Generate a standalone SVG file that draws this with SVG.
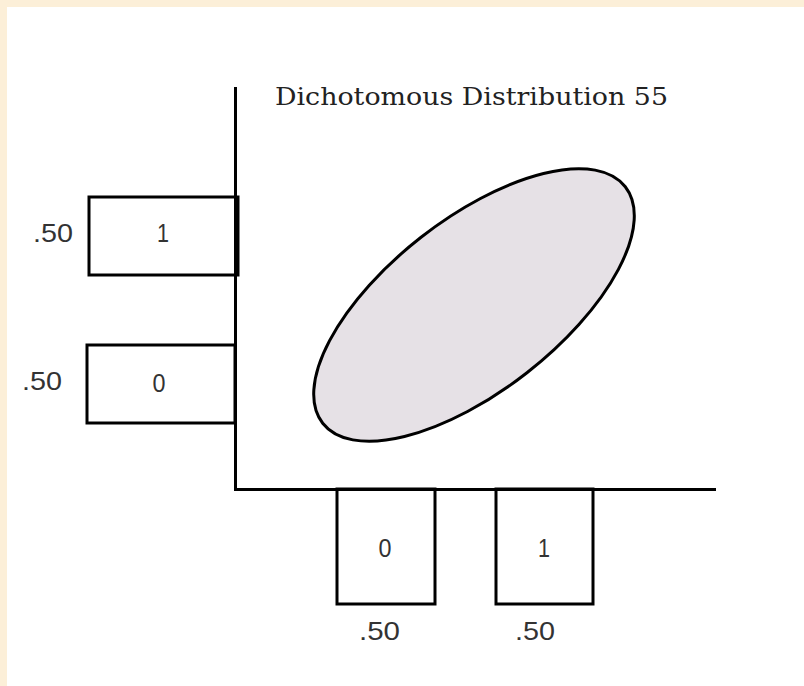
<svg xmlns="http://www.w3.org/2000/svg" width="804" height="686" viewBox="0 0 804 686">
<defs>
<style>
.box{fill:#ffffff;stroke:#000000;stroke-width:3}
.axis{stroke:#000000;stroke-width:3;fill:none}
.num{font-family:"Liberation Sans",Arial,sans-serif;font-size:26px;fill:#333333}
.title{font-family:"DejaVu Serif","Liberation Serif",serif;font-size:24px;fill:#222222}
</style>
</defs>
<rect x="0" y="0" width="804" height="686" fill="#ffffff"/>
<rect x="0" y="0" width="804" height="7" fill="#fcefd8"/>
<rect x="0" y="0" width="7" height="686" fill="#fcefd8"/>
<text class="title" x="275" y="105" textLength="393" lengthAdjust="spacingAndGlyphs">Dichotomous Distribution 55</text>
<g id="ellipse">
<ellipse cx="474" cy="305" rx="192" ry="86" transform="rotate(-38 474 305)" fill="#e6e1e6" stroke="#000000" stroke-width="3"/>
</g>
<g id="left-1">
<rect class="box" x="89" y="197" width="149" height="78"/>
<text class="num" x="163" y="242" text-anchor="middle" textLength="12" lengthAdjust="spacingAndGlyphs">1</text>
<text class="num" x="33" y="242" textLength="40" lengthAdjust="spacingAndGlyphs">.50</text>
</g>
<g id="left-0">
<rect class="box" x="87" y="345" width="148" height="78"/>
<text class="num" x="159" y="392" text-anchor="middle" textLength="13" lengthAdjust="spacingAndGlyphs">0</text>
<text class="num" x="22" y="390" textLength="40" lengthAdjust="spacingAndGlyphs">.50</text>
</g>
<g id="bottom-0">
<rect class="box" x="337" y="489" width="98" height="115"/>
<text class="num" x="385" y="557" text-anchor="middle" textLength="13" lengthAdjust="spacingAndGlyphs">0</text>
<text class="num" x="359" y="640" textLength="41" lengthAdjust="spacingAndGlyphs">.50</text>
</g>
<g id="bottom-1">
<rect class="box" x="496" y="489" width="97" height="115"/>
<text class="num" x="544" y="557" text-anchor="middle" textLength="12" lengthAdjust="spacingAndGlyphs">1</text>
<text class="num" x="515" y="640" textLength="40" lengthAdjust="spacingAndGlyphs">.50</text>
</g>
<g id="connectors">
<line class="axis" x1="235.5" y1="87" x2="235.5" y2="489"/>
<line class="axis" x1="234" y1="489.5" x2="716" y2="489.5"/>
</g>
</svg>
